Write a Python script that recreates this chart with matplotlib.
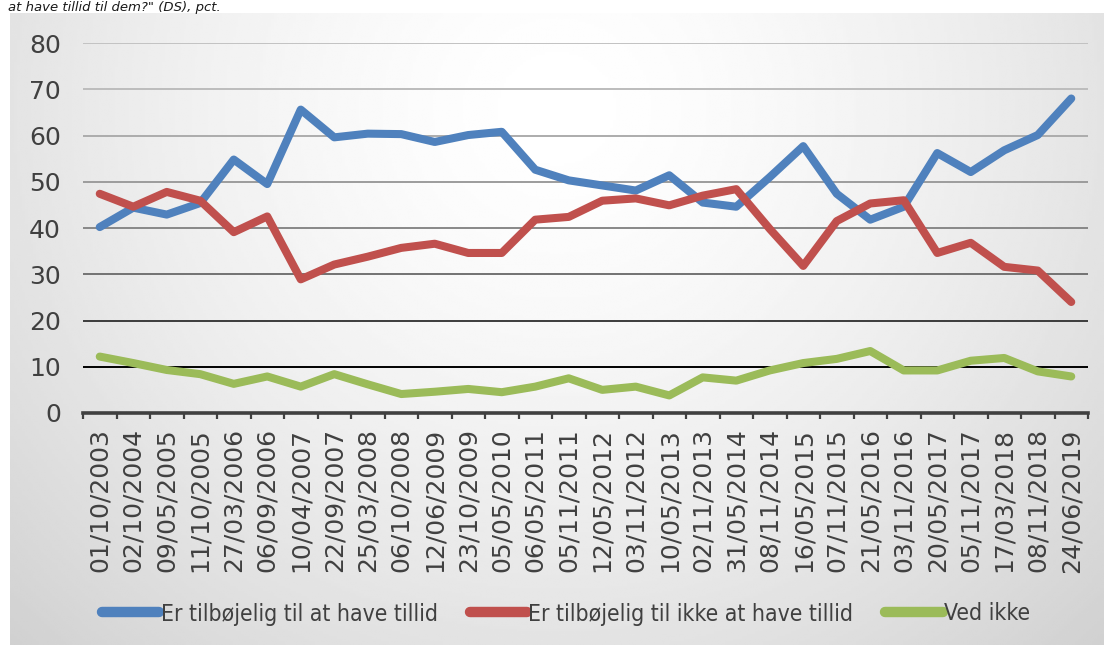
import numpy as np
import matplotlib
matplotlib.use("Agg")
import matplotlib.pyplot as plt

# Datoer for målingerne
datoer = ["01/10/2003", "02/10/2004", "09/05/2005", "11/10/2005", "27/03/2006",
          "06/09/2006", "10/04/2007", "22/09/2007", "25/03/2008", "06/10/2008",
          "12/06/2009", "23/10/2009", "05/05/2010", "06/05/2011", "05/11/2011",
          "12/05/2012", "03/11/2012", "10/05/2013", "02/11/2013", "31/05/2014",
          "08/11/2014", "16/05/2015", "07/11/2015", "21/05/2016", "03/11/2016",
          "20/05/2017", "05/11/2017", "17/03/2018", "08/11/2018", "24/06/2019"]

# Serier (pct.)
tillid = [40.2, 44.4, 42.9, 45.4, 54.8, 49.5, 65.6, 59.6, 60.4, 60.3,
          58.6, 60.1, 60.8, 52.6, 50.3, 49.2, 48.1, 51.4, 45.5, 44.6,
          51.0, 57.7, 47.4, 41.8, 44.6, 56.2, 52.1, 56.8, 60.1, 68.0]
ikke_tillid = [47.4, 44.6, 47.8, 45.9, 39.1, 42.5, 28.9, 32.1, 33.8, 35.7,
               36.6, 34.6, 34.6, 41.8, 42.4, 45.9, 46.4, 44.9, 47.0, 48.4,
               39.8, 31.8, 41.5, 45.3, 46.0, 34.6, 36.8, 31.6, 30.8, 24.0]
ved_ikke = [12.2, 10.8, 9.3, 8.4, 6.3, 7.9, 5.7, 8.4, 6.2, 4.1,
            4.6, 5.2, 4.5, 5.7, 7.5, 5.0, 5.7, 3.8, 7.7, 7.0,
            9.2, 10.8, 11.7, 13.4, 9.2, 9.2, 11.3, 11.9, 9.0, 7.9]

serier = ["Er tilbøjelig til at have tillid",
          "Er tilbøjelig til ikke at have tillid",
          "Ved ikke"]
farver = ["#4f81bd", "#c0504d", "#9bbb59"]

W, H = 1104, 646
fig = plt.figure(figsize=(W / 100, H / 100), dpi=100)
fig.patch.set_facecolor("white")

# Grå baggrund med radial gradient
bg = fig.add_axes([10 / W, 1 / H, 1094 / W, 632 / H])
gx, gy = np.meshgrid(np.linspace(0, 1, 400), np.linspace(0, 1, 250))
r = np.sqrt(((gx - 0.5) / 0.6) ** 2 + ((gy - 0.15) / 1.0) ** 2)
gray = np.clip(1 - 0.14 * r ** 1.5, 0, 1)
bg.imshow(gray, cmap="gray", vmin=0, vmax=1, aspect="auto", interpolation="bilinear")
bg.axis("off")

# Overskrift øverst (i originalen skåret af)
fig.text(8 / W, 1 - 0.5 / H, 'at have tillid til dem?" (DS), pct.', fontsize=9.5,
         style="italic", color="#1a1a1a", va="top", ha="left")

ax = fig.add_axes([83 / W, 1 - 413 / H, (1088 - 83) / W, (413 - 43) / H])
ax.set_facecolor("none")

x = np.arange(len(datoer))
linjer = []
for vals, navn, farve in zip([tillid, ikke_tillid, ved_ikke], serier, farver):
    ln, = ax.plot(x, vals, color=farve, lw=5.8, label=navn,
                  solid_capstyle="round", solid_joinstyle="round", zorder=3)
    linjer.append(ln)

ax.set_xlim(-0.5, len(datoer) - 0.5)
ax.set_ylim(0, 80)
ax.set_yticks(range(0, 81, 10))

# Gitterlinjer, mørkere nedad
grid_farver = {10: "#000000", 20: "#3c3c3c", 30: "#727272", 40: "#888888",
               50: "#9c9c9c", 60: "#acacac", 70: "#bcbcbc", 80: "#c2c2c2"}
for yv, c in grid_farver.items():
    ax.axhline(yv, color=c, lw=1.4, zorder=1)

for s in ["top", "right", "left"]:
    ax.spines[s].set_visible(False)
ax.spines["bottom"].set_color("#404040")
ax.spines["bottom"].set_linewidth(2.6)
ax.spines["bottom"].set_zorder(4)

ax.set_xticks(x)
ax.set_xticklabels(datoer, rotation=90, fontsize=18, color="#404040")
ax.set_xticks(np.arange(-0.5, len(datoer), 1), minor=True)
ax.tick_params(axis="x", which="major", length=0, pad=11)
ax.tick_params(axis="x", which="minor", length=4.5, width=1.6, color="#404040")
ax.tick_params(axis="y", length=0, pad=16, labelsize=18, labelcolor="#404040")

leg = fig.legend(handles=linjer, loc="center", ncol=3,
                 bbox_to_anchor=(566 / W, 1 - 614 / H), frameon=False,
                 handlelength=2.5, handletextpad=0.05, columnspacing=1.4,
                 prop={"family": "DejaVu Sans", "stretch": "condensed", "size": 16.5})
for t in leg.get_texts():
    t.set_color("#404040")
for l in leg.get_lines():
    l.set_linewidth(7.5)

fig.savefig("out.png", dpi=100)
